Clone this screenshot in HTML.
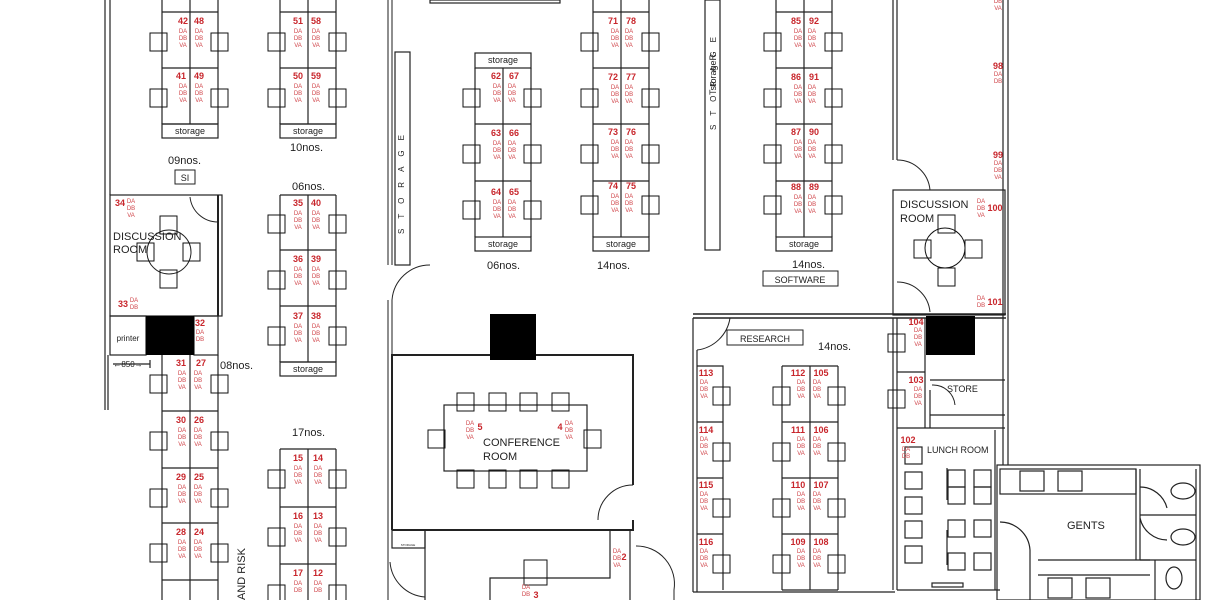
<!DOCTYPE html>
<html><head><meta charset="utf-8"><style>
body{margin:0;background:#fff}
svg{display:block}
.n{font:bold 9px "Liberation Sans",sans-serif;fill:#c8262c;text-anchor:middle}
.d{font:6px "Liberation Sans",sans-serif;fill:#d0454a;text-anchor:middle}
.l{font:11px "Liberation Sans",sans-serif;fill:#222}
.s{font:9px "Liberation Sans",sans-serif;fill:#222;text-anchor:middle}
</style></head><body>
<svg width="1224" height="600" viewBox="0 0 1224 600" xmlns="http://www.w3.org/2000/svg">
<defs><symbol id="c" overflow="visible"><rect x="0" y="0" width="17" height="18" fill="none" stroke="#111" stroke-width="1"/></symbol></defs>
<g fill="none" stroke="#222" stroke-width="1.2">
<path d="M105 0V410M110 0V195M108 355V410"/>
<path d="M388 0V265M392 0V265M388 300V600M392 300V355" stroke="#444"/>
<rect x="430" y="0" width="130" height="3"/>
<rect x="395" y="52" width="15" height="213"/>
<path d="M392 300A38 38 0 0 1 430 265" stroke-width="1"/>
<rect x="705" y="0" width="15" height="250"/>
<path d="M893 0V160M897 0V160M1003 0V465M1008 0V465"/>
<path d="M897 160A33 33 0 0 1 930 190" stroke-width="1"/>
<rect x="893" y="190" width="112" height="125"/>
<path d="M897 282A33 33 0 0 1 930 312" stroke-width="1"/>
<path d="M693 314H1006M693 318H1006" stroke-width="1.5"/>
<path d="M693 318V592M697 350V592M693 592H895"/>
<path d="M697 350A38 38 0 0 0 730 318" stroke-width="1"/>
<path d="M893 318V590M897 318V590M925 318V428M930 390V428M925 428H1005M930 380H1005M930 415H1005"/>
<path d="M932 385A22 22 0 0 1 955 405" stroke-width="1"/>
<path d="M897 590H1000M995 430V590"/>
<rect x="110" y="195" width="112" height="121"/>
<path d="M218 195V316" stroke-width="2"/>
<path d="M190 197A28 28 0 0 0 218 222" stroke-width="1"/>
<circle cx="169" cy="252" r="22" stroke-width="1"/>
<rect x="110" y="316" width="36" height="39"/>
<rect x="194" y="316" width="24" height="39"/>
<path d="M113 364H150M150 360V368"/>
<path d="M392 530V355H490M536 355H633V485M633 520V530H392" stroke-width="2"/>
<path d="M598 520A35 35 0 0 1 633 485" stroke-width="1"/>
<rect x="444" y="405" width="143" height="66"/>
<rect x="392" y="530" width="33" height="18"/>
<path d="M425 530H630V600M425 530V600"/>
<path d="M390 562A38 38 0 0 0 425 597" stroke-width="1"/>
<path d="M610 531V578H490V600"/>
<path d="M636 546A38 38 0 0 1 674 590V600" stroke-width="1"/>
<rect x="997" y="465" width="203" height="135"/>
<rect x="1000" y="469" width="136" height="25"/>
<rect x="1020" y="471" width="24" height="20"/><rect x="1058" y="471" width="24" height="20"/>
<path d="M1136 469V560M1140 469V560M1140 515H1196M1140 560H1196M1196 469V600M1155 560V600"/>
<path d="M1140 487A28 28 0 0 1 1167 508M1140 518A28 28 0 0 0 1167 540"/>
<ellipse cx="1183" cy="491" rx="12" ry="8"/><ellipse cx="1183" cy="537" rx="12" ry="8"/><ellipse cx="1174" cy="578" rx="8" ry="11"/>
<path d="M1000 522A30 30 0 0 1 1030 550V600M1038 560H1150M1038 575H1150"/>
<rect x="1048" y="578" width="24" height="20"/><rect x="1086" y="578" width="24" height="20"/>
<path d="M947 468V500M947 530V565"/>
<rect x="948" y="470" width="17" height="17"/><rect x="974" y="470" width="17" height="17"/>
<rect x="948" y="487" width="17" height="17"/><rect x="974" y="487" width="17" height="17"/>
<rect x="948" y="520" width="17" height="17"/><rect x="974" y="520" width="17" height="17"/>
<rect x="948" y="553" width="17" height="17"/><rect x="974" y="553" width="17" height="17"/>
<rect x="905" y="447" width="17" height="17"/><rect x="905" y="472" width="17" height="17"/><rect x="905" y="497" width="17" height="17"/><rect x="905" y="521" width="17" height="17"/><rect x="905" y="546" width="17" height="17"/>
<rect x="932" y="583" width="31" height="4"/>
<path d="M162 -44V124M218 -44V124M162 12H218M162 68H218M162 124H218M190 0V124" />
<rect x="162" y="124" width="56" height="14"/>
<path d="M280 -44V124M336 -44V124M280 12H336M280 68H336M280 124H336M308 0V124"/>
<rect x="280" y="124" width="56" height="14"/>
<path d="M280 195V362M336 195V362M280 195H336M280 250H336M280 306H336M280 362H336M308 195V362"/>
<rect x="280" y="362" width="56" height="14"/>
<rect x="475" y="53" width="56" height="15"/>
<path d="M475 68V237M531 68V237M475 124H531M475 181H531M503 68V237"/>
<rect x="475" y="237" width="56" height="14"/>
<path d="M593 0V237M649 0V237M593 12H649M593 68H649M593 124H649M593 181H649M621 0V237"/>
<rect x="593" y="237" width="56" height="14"/>
<path d="M776 0V237M832 0V237M776 12H832M776 68H832M776 124H832M776 181H832M804 0V237"/>
<rect x="776" y="237" width="56" height="14"/>
<path d="M162 355V600M218 355V600M162 411H218M162 468H218M162 523H218M162 580H218M190 355V600"/>
<path d="M280 449V600M336 449V600M280 449H336M280 507H336M280 564H336M308 449V600"/>
<path d="M697 366H723V590M697 422H723M697 478H723M697 534H723"/>
<path d="M782 366V590M838 366V590M782 366H838M782 422H838M782 478H838M782 534H838M782 590H838M810 366V590"/>
<path d="M897 372H925M897 428H925"/>
</g>
<rect x="146" y="316" width="48" height="39" fill="#000"/>
<rect x="490" y="314" width="46" height="46" fill="#000"/>
<rect x="926" y="316" width="49" height="39" fill="#000"/>
<g>
<use href="#c" x="150" y="33"/><use href="#c" x="211" y="33"/><use href="#c" x="150" y="89"/><use href="#c" x="211" y="89"/>
<use href="#c" x="268" y="33"/><use href="#c" x="329" y="33"/><use href="#c" x="268" y="89"/><use href="#c" x="329" y="89"/>
<use href="#c" x="268" y="215"/><use href="#c" x="329" y="215"/><use href="#c" x="268" y="271"/><use href="#c" x="329" y="271"/><use href="#c" x="268" y="327"/><use href="#c" x="329" y="327"/>
<use href="#c" x="463" y="89"/><use href="#c" x="524" y="89"/><use href="#c" x="463" y="145"/><use href="#c" x="524" y="145"/><use href="#c" x="463" y="201"/><use href="#c" x="524" y="201"/>
<use href="#c" x="581" y="33"/><use href="#c" x="642" y="33"/><use href="#c" x="581" y="89"/><use href="#c" x="642" y="89"/><use href="#c" x="581" y="145"/><use href="#c" x="642" y="145"/><use href="#c" x="581" y="196"/><use href="#c" x="642" y="196"/>
<use href="#c" x="764" y="33"/><use href="#c" x="825" y="33"/><use href="#c" x="764" y="89"/><use href="#c" x="825" y="89"/><use href="#c" x="764" y="145"/><use href="#c" x="825" y="145"/><use href="#c" x="764" y="196"/><use href="#c" x="825" y="196"/>
<use href="#c" x="150" y="375"/><use href="#c" x="211" y="375"/><use href="#c" x="150" y="432"/><use href="#c" x="211" y="432"/><use href="#c" x="150" y="489"/><use href="#c" x="211" y="489"/><use href="#c" x="150" y="544"/><use href="#c" x="211" y="544"/>
<use href="#c" x="268" y="470"/><use href="#c" x="329" y="470"/><use href="#c" x="268" y="528"/><use href="#c" x="329" y="528"/><use href="#c" x="268" y="585"/><use href="#c" x="329" y="585"/>
<use href="#c" x="713" y="387"/><use href="#c" x="713" y="443"/><use href="#c" x="713" y="499"/><use href="#c" x="713" y="555"/>
<use href="#c" x="773" y="387"/><use href="#c" x="828" y="387"/><use href="#c" x="773" y="443"/><use href="#c" x="828" y="443"/><use href="#c" x="773" y="499"/><use href="#c" x="828" y="499"/><use href="#c" x="773" y="555"/><use href="#c" x="828" y="555"/>
<use href="#c" x="888" y="334"/><use href="#c" x="888" y="390"/>
<use href="#c" x="160" y="216"/><use href="#c" x="160" y="270"/><use href="#c" x="137" y="243"/><use href="#c" x="183" y="243"/>
<use href="#c" x="938" y="215"/><use href="#c" x="938" y="268"/><use href="#c" x="914" y="240"/><use href="#c" x="965" y="240"/>
<use href="#c" x="457" y="393"/><use href="#c" x="489" y="393"/><use href="#c" x="520" y="393"/><use href="#c" x="552" y="393"/>
<use href="#c" x="457" y="470"/><use href="#c" x="489" y="470"/><use href="#c" x="520" y="470"/><use href="#c" x="552" y="470"/>
<use href="#c" x="428" y="430"/><use href="#c" x="584" y="430"/>
<rect x="524" y="560" width="23" height="25" fill="none" stroke="#111"/>
<circle cx="945" cy="248" r="20" fill="none" stroke="#111"/>
</g>
<g class="n">
<text x="183" y="24">42</text><text x="199" y="24">48</text><text x="181" y="79">41</text><text x="199" y="79">49</text>
<text x="298" y="24">51</text><text x="316" y="24">58</text><text x="298" y="79">50</text><text x="316" y="79">59</text>
<text x="298" y="206">35</text><text x="316" y="206">40</text><text x="298" y="262">36</text><text x="316" y="262">39</text><text x="298" y="319">37</text><text x="316" y="319">38</text>
<text x="496" y="79">62</text><text x="514" y="79">67</text><text x="496" y="136">63</text><text x="514" y="136">66</text><text x="496" y="195">64</text><text x="514" y="195">65</text>
<text x="613" y="24">71</text><text x="631" y="24">78</text><text x="613" y="80">72</text><text x="631" y="80">77</text><text x="613" y="135">73</text><text x="631" y="135">76</text><text x="613" y="189">74</text><text x="631" y="189">75</text>
<text x="796" y="24">85</text><text x="814" y="24">92</text><text x="796" y="80">86</text><text x="814" y="80">91</text><text x="796" y="135">87</text><text x="814" y="135">90</text><text x="796" y="190">88</text><text x="814" y="190">89</text>
<text x="181" y="366">31</text><text x="201" y="366">27</text><text x="181" y="423">30</text><text x="199" y="423">26</text><text x="181" y="480">29</text><text x="199" y="480">25</text><text x="181" y="535">28</text><text x="199" y="535">24</text>
<text x="200" y="326">32</text><text x="120" y="206">34</text><text x="123" y="307">33</text>
<text x="298" y="461">15</text><text x="318" y="461">14</text><text x="298" y="519">16</text><text x="318" y="519">13</text><text x="298" y="576">17</text><text x="318" y="576">12</text>
<text x="706" y="376">113</text><text x="706" y="433">114</text><text x="706" y="488">115</text><text x="706" y="545">116</text>
<text x="798" y="376">112</text><text x="821" y="376">105</text><text x="798" y="433">111</text><text x="821" y="433">106</text><text x="798" y="488">110</text><text x="821" y="488">107</text><text x="798" y="545">109</text><text x="821" y="545">108</text>
<text x="916" y="325">104</text><text x="916" y="383">103</text><text x="908" y="443">102</text>
<text x="998" y="69">98</text><text x="998" y="158">99</text><text x="995" y="211">100</text><text x="995" y="305">101</text>
<text x="480" y="430">5</text><text x="560" y="430">4</text><text x="624" y="560">2</text><text x="536" y="598">3</text>
</g>
<g class="d">
<text x="183" y="33">DA<tspan x="183" dy="7">DB</tspan><tspan x="183" dy="7">VA</tspan></text><text x="199" y="33">DA<tspan x="199" dy="7">DB</tspan><tspan x="199" dy="7">VA</tspan></text>
<text x="183" y="88">DA<tspan x="183" dy="7">DB</tspan><tspan x="183" dy="7">VA</tspan></text><text x="199" y="88">DA<tspan x="199" dy="7">DB</tspan><tspan x="199" dy="7">VA</tspan></text>
<text x="298" y="33">DA<tspan x="298" dy="7">DB</tspan><tspan x="298" dy="7">VA</tspan></text><text x="316" y="33">DA<tspan x="316" dy="7">DB</tspan><tspan x="316" dy="7">VA</tspan></text>
<text x="298" y="88">DA<tspan x="298" dy="7">DB</tspan><tspan x="298" dy="7">VA</tspan></text><text x="316" y="88">DA<tspan x="316" dy="7">DB</tspan><tspan x="316" dy="7">VA</tspan></text>
<text x="298" y="215">DA<tspan x="298" dy="7">DB</tspan><tspan x="298" dy="7">VA</tspan></text><text x="316" y="215">DA<tspan x="316" dy="7">DB</tspan><tspan x="316" dy="7">VA</tspan></text>
<text x="298" y="271">DA<tspan x="298" dy="7">DB</tspan><tspan x="298" dy="7">VA</tspan></text><text x="316" y="271">DA<tspan x="316" dy="7">DB</tspan><tspan x="316" dy="7">VA</tspan></text>
<text x="298" y="328">DA<tspan x="298" dy="7">DB</tspan><tspan x="298" dy="7">VA</tspan></text><text x="316" y="328">DA<tspan x="316" dy="7">DB</tspan><tspan x="316" dy="7">VA</tspan></text>
<text x="497" y="88">DA<tspan x="497" dy="7">DB</tspan><tspan x="497" dy="7">VA</tspan></text><text x="512" y="88">DA<tspan x="512" dy="7">DB</tspan><tspan x="512" dy="7">VA</tspan></text>
<text x="497" y="145">DA<tspan x="497" dy="7">DB</tspan><tspan x="497" dy="7">VA</tspan></text><text x="512" y="145">DA<tspan x="512" dy="7">DB</tspan><tspan x="512" dy="7">VA</tspan></text>
<text x="497" y="204">DA<tspan x="497" dy="7">DB</tspan><tspan x="497" dy="7">VA</tspan></text><text x="512" y="204">DA<tspan x="512" dy="7">DB</tspan><tspan x="512" dy="7">VA</tspan></text>
<text x="615" y="33">DA<tspan x="615" dy="7">DB</tspan><tspan x="615" dy="7">VA</tspan></text><text x="629" y="33">DA<tspan x="629" dy="7">DB</tspan><tspan x="629" dy="7">VA</tspan></text>
<text x="615" y="89">DA<tspan x="615" dy="7">DB</tspan><tspan x="615" dy="7">VA</tspan></text><text x="629" y="89">DA<tspan x="629" dy="7">DB</tspan><tspan x="629" dy="7">VA</tspan></text>
<text x="615" y="144">DA<tspan x="615" dy="7">DB</tspan><tspan x="615" dy="7">VA</tspan></text><text x="629" y="144">DA<tspan x="629" dy="7">DB</tspan><tspan x="629" dy="7">VA</tspan></text>
<text x="615" y="198">DA<tspan x="615" dy="7">DB</tspan><tspan x="615" dy="7">VA</tspan></text><text x="629" y="198">DA<tspan x="629" dy="7">DB</tspan><tspan x="629" dy="7">VA</tspan></text>
<text x="798" y="33">DA<tspan x="798" dy="7">DB</tspan><tspan x="798" dy="7">VA</tspan></text><text x="812" y="33">DA<tspan x="812" dy="7">DB</tspan><tspan x="812" dy="7">VA</tspan></text>
<text x="798" y="89">DA<tspan x="798" dy="7">DB</tspan><tspan x="798" dy="7">VA</tspan></text><text x="812" y="89">DA<tspan x="812" dy="7">DB</tspan><tspan x="812" dy="7">VA</tspan></text>
<text x="798" y="144">DA<tspan x="798" dy="7">DB</tspan><tspan x="798" dy="7">VA</tspan></text><text x="812" y="144">DA<tspan x="812" dy="7">DB</tspan><tspan x="812" dy="7">VA</tspan></text>
<text x="798" y="199">DA<tspan x="798" dy="7">DB</tspan><tspan x="798" dy="7">VA</tspan></text><text x="812" y="199">DA<tspan x="812" dy="7">DB</tspan><tspan x="812" dy="7">VA</tspan></text>
<text x="182" y="375">DA<tspan x="182" dy="7">DB</tspan><tspan x="182" dy="7">VA</tspan></text><text x="198" y="375">DA<tspan x="198" dy="7">DB</tspan><tspan x="198" dy="7">VA</tspan></text>
<text x="182" y="432">DA<tspan x="182" dy="7">DB</tspan><tspan x="182" dy="7">VA</tspan></text><text x="198" y="432">DA<tspan x="198" dy="7">DB</tspan><tspan x="198" dy="7">VA</tspan></text>
<text x="182" y="489">DA<tspan x="182" dy="7">DB</tspan><tspan x="182" dy="7">VA</tspan></text><text x="198" y="489">DA<tspan x="198" dy="7">DB</tspan><tspan x="198" dy="7">VA</tspan></text>
<text x="182" y="544">DA<tspan x="182" dy="7">DB</tspan><tspan x="182" dy="7">VA</tspan></text><text x="198" y="544">DA<tspan x="198" dy="7">DB</tspan><tspan x="198" dy="7">VA</tspan></text>
<text x="200" y="334">DA<tspan x="200" dy="7">DB</tspan></text>
<text x="131" y="203">DA<tspan x="131" dy="7">DB</tspan><tspan x="131" dy="7">VA</tspan></text><text x="134" y="302">DA<tspan x="134" dy="7">DB</tspan></text>
<text x="298" y="470">DA<tspan x="298" dy="7">DB</tspan><tspan x="298" dy="7">VA</tspan></text><text x="318" y="470">DA<tspan x="318" dy="7">DB</tspan><tspan x="318" dy="7">VA</tspan></text>
<text x="298" y="528">DA<tspan x="298" dy="7">DB</tspan><tspan x="298" dy="7">VA</tspan></text><text x="318" y="528">DA<tspan x="318" dy="7">DB</tspan><tspan x="318" dy="7">VA</tspan></text>
<text x="298" y="585">DA<tspan x="298" dy="7">DB</tspan></text><text x="318" y="585">DA<tspan x="318" dy="7">DB</tspan></text>
<text x="704" y="384">DA<tspan x="704" dy="7">DB</tspan><tspan x="704" dy="7">VA</tspan></text><text x="704" y="441">DA<tspan x="704" dy="7">DB</tspan><tspan x="704" dy="7">VA</tspan></text>
<text x="704" y="496">DA<tspan x="704" dy="7">DB</tspan><tspan x="704" dy="7">VA</tspan></text><text x="704" y="553">DA<tspan x="704" dy="7">DB</tspan><tspan x="704" dy="7">VA</tspan></text>
<text x="801" y="384">DA<tspan x="801" dy="7">DB</tspan><tspan x="801" dy="7">VA</tspan></text><text x="817" y="384">DA<tspan x="817" dy="7">DB</tspan><tspan x="817" dy="7">VA</tspan></text>
<text x="801" y="441">DA<tspan x="801" dy="7">DB</tspan><tspan x="801" dy="7">VA</tspan></text><text x="817" y="441">DA<tspan x="817" dy="7">DB</tspan><tspan x="817" dy="7">VA</tspan></text>
<text x="801" y="496">DA<tspan x="801" dy="7">DB</tspan><tspan x="801" dy="7">VA</tspan></text><text x="817" y="496">DA<tspan x="817" dy="7">DB</tspan><tspan x="817" dy="7">VA</tspan></text>
<text x="801" y="553">DA<tspan x="801" dy="7">DB</tspan><tspan x="801" dy="7">VA</tspan></text><text x="817" y="553">DA<tspan x="817" dy="7">DB</tspan><tspan x="817" dy="7">VA</tspan></text>
<text x="918" y="332">DA<tspan x="918" dy="7">DB</tspan><tspan x="918" dy="7">VA</tspan></text><text x="918" y="391">DA<tspan x="918" dy="7">DB</tspan><tspan x="918" dy="7">VA</tspan></text>
<text x="906" y="451">DA<tspan x="906" dy="7">DB</tspan></text>
<text x="998" y="3">DB<tspan x="998" dy="7">VA</tspan></text>
<text x="998" y="76">DA<tspan x="998" dy="7">DB</tspan></text><text x="998" y="165">DA<tspan x="998" dy="7">DB</tspan><tspan x="998" dy="7">VA</tspan></text>
<text x="981" y="203">DA<tspan x="981" dy="7">DB</tspan><tspan x="981" dy="7">VA</tspan></text><text x="981" y="300">DA<tspan x="981" dy="7">DB</tspan></text>
<text x="470" y="425">DA<tspan x="470" dy="7">DB</tspan><tspan x="470" dy="7">VA</tspan></text><text x="569" y="425">DA<tspan x="569" dy="7">DB</tspan><tspan x="569" dy="7">VA</tspan></text>
<text x="617" y="553">DA<tspan x="617" dy="7">DB</tspan><tspan x="617" dy="7">VA</tspan></text><text x="526" y="589">DA<tspan x="526" dy="7">DB</tspan></text>
</g>
<g class="s">
<text x="190" y="134">storage</text><text x="308" y="134">storage</text><text x="308" y="372">storage</text>
<text x="503" y="63">storage</text><text x="503" y="247">storage</text><text x="621" y="247">storage</text><text x="804" y="247">storage</text>
<text x="128" y="341" font-size="8">printer</text>
<text x="128" y="367" font-size="8">←850→</text>
<text x="408" y="546" font-size="3">STORAGE</text>
</g>
<g class="l">
<text x="168" y="164">09nos.</text><text x="290" y="151">10nos.</text><text x="292" y="190">06nos.</text>
<text x="487" y="269">06nos.</text><text x="597" y="269">14nos.</text><text x="792" y="268">14nos.</text>
<text x="220" y="369">08nos.</text><text x="292" y="436">17nos.</text><text x="818" y="350">14nos.</text>
<text x="113" y="240">DISCUSSION</text><text x="113" y="253">ROOM</text>
<text x="900" y="208">DISCUSSION</text><text x="900" y="222">ROOM</text>
<text x="483" y="446">CONFERENCE</text><text x="483" y="460">ROOM</text>
<text x="947" y="392" font-size="9">STORE</text><text x="927" y="453" font-size="9">LUNCH ROOM</text>
<text x="1067" y="529">GENTS</text>
<text x="400" y="230" font-size="8" transform="rotate(-90 404 230)" letter-spacing="10">STORAGE</text>
<text x="716" y="130" font-size="8" transform="rotate(-90 716 130)" letter-spacing="9">STORAGE</text>
<text x="716" y="95" font-size="9" transform="rotate(-90 716 95)">TstorageR</text>
<text x="245" y="600" transform="rotate(-90 245 600)">AND RISK</text>
</g>
<g fill="none" stroke="#222">
<rect x="175" y="170" width="20" height="14"/><rect x="763" y="271" width="75" height="15"/><rect x="727" y="330" width="76" height="15"/>
</g>
<text x="185" y="181" class="s" font-size="11">SI</text>
<text x="800" y="283" class="s" font-size="11">SOFTWARE</text>
<text x="765" y="342" class="s" font-size="11">RESEARCH</text>
</svg>
</body></html>
